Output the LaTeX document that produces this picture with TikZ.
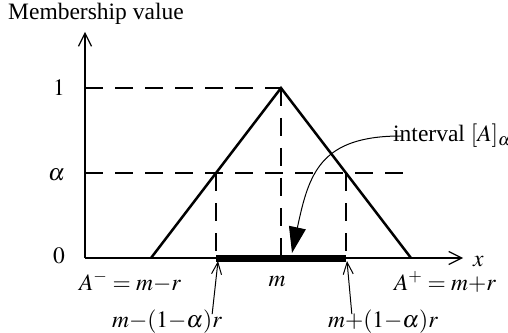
\documentclass[tikz,border=0pt]{standalone}
\usepackage{mathptmx}
\usepackage{fontspec}
\setmainfont{Liberation Serif}
\usetikzlibrary{arrows.meta}

\begin{document}
\begin{tikzpicture}[x=1pt,y=1pt,font=\fontsize{23.5}{28}\selectfont,
    axis/.style={line width=2.2pt,-{Straight Barb[length=13pt,width=13pt,line width=1.2pt]}},
    dsh/.style={line width=2.2pt,dash pattern=on 18pt off 12pt},
    pointer/.style={line width=1pt,-{Straight Barb[length=12pt,width=10pt,line width=1pt]}},
    lbl/.style={inner sep=0pt}]
    \useasboundingbox (-85,-74) rectangle (423,258);
    % points of the fuzzy number
    \coordinate (O) at (0,0);
    \coordinate (yend) at (0,226);
    \coordinate (xend) at (378,0);
    \coordinate (L) at (66,0);
    \coordinate (P) at (196,170);
    \coordinate (R) at (326,0);
    \coordinate (aL) at (131,85);
    \coordinate (aR) at (261,85);
    \coordinate (bL) at (131,0);
    \coordinate (bM) at (196,0);
    \coordinate (bR) at (261,0);
    \coordinate (tL) at (133,-3);
    \coordinate (tR) at (262,-3);
    \coordinate (tip) at (207,5);
    % levels
    \draw[dsh] (0,170) -- (P);
    \draw[dsh] (0,85) -- (327,85);
    \draw[dsh] (aL) -- (bL) (P) -- (bM) (aR) -- (bR);
    % axes and membership function
    \draw[axis] (O) -- (yend);
    \draw[axis] (O) -- (xend);
    \draw[line width=2.5pt,line join=miter] (L) -- (P) -- (R);
    \draw[line width=7pt] (bL) -- (bR);
    % labels
    \node[lbl,anchor=west] (ylab) at (-77,244) {Membership value};
    \node[lbl,left=20pt] (one) at (0,170) {$1$};
    \node[lbl,left=20pt] (alph) at (0,83) {$\alpha$};
    \node[lbl,left=20pt] (zero) at (0,2) {$0$};
    \node[lbl,anchor=west] (xlab) at (388,-4) {$x$};
    \node[lbl] (Am) at (45,-24) {$A^{-}=m{-}r$};
    \node[lbl] (mm) at (192,-24) {$m$};
    \node[lbl] (Ap) at (360,-24) {$A^{+}=m{+}r$};
    \node[lbl] (lo) at (82,-64) {$m{-}(1{-}\alpha)r$};
    \node[lbl] (hi) at (298,-64) {$m{+}(1{-}\alpha)r$};
    \node[lbl,anchor=base west] (iv) at (308,116) {interval $[A]_\alpha$};
    % pointers
    \draw[pointer] ([xshift=-10pt,yshift=-4pt]lo.north east) -- (tL);
    \draw[pointer] ([xshift=24pt,yshift=-4pt]hi.north west) -- (tR);
    \draw[line width=1pt,-{Triangle[length=26pt,width=17pt]}]
        ([xshift=8pt,yshift=6pt]iv.base west) to[out=180,in=78,looseness=1.3] (tip);
\end{tikzpicture}
\end{document}
